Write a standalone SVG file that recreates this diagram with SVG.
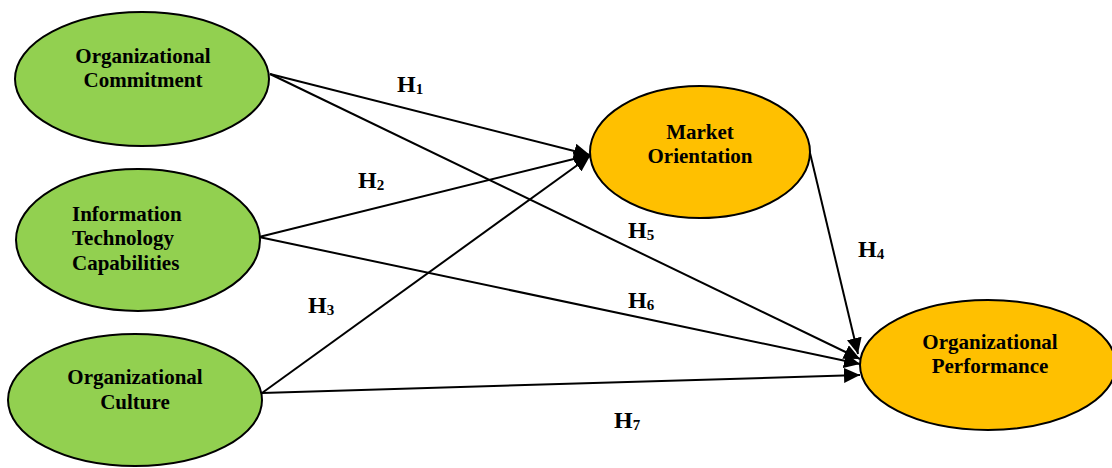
<svg xmlns="http://www.w3.org/2000/svg" width="1112" height="468" viewBox="0 0 1112 468">
<style>
.g{fill:#92D050;stroke:#000;stroke-width:2}
.o{fill:#FFC000;stroke:#000;stroke-width:2}
.t{font-family:"Liberation Serif","Times New Roman",serif;font-weight:bold;font-size:21px;fill:#000}
.c{text-anchor:middle}
.h{font-family:"Liberation Serif","Times New Roman",serif;font-weight:bold;font-size:24px;fill:#000}
.s{font-size:15px}
.e{stroke:#000;stroke-width:2;fill:none;marker-end:url(#ah)}
</style>
<defs>
<marker id="ah" markerUnits="userSpaceOnUse" markerWidth="17" markerHeight="15" refX="16" refY="7.5" orient="auto">
<path d="M0,0 L16,7.5 L0,15 Z" fill="#000"/>
</marker>
</defs>
<rect width="1112" height="468" fill="#fff"/>
<g id="connectors">
<line class="e" x1="270" y1="74" x2="590" y2="155"/>
<line class="e" x1="259" y1="237" x2="590" y2="155"/>
<line class="e" x1="262" y1="393" x2="590" y2="156"/>
<line class="e" x1="810" y1="153" x2="858" y2="354"/>
<line class="e" x1="270" y1="74" x2="860" y2="359"/>
<line class="e" x1="259" y1="237" x2="860" y2="364"/>
<line class="e" x1="262" y1="393" x2="860" y2="375"/>
</g>
<g id="labels">
<text class="h" x="397" y="92">H<tspan class="s" dy="2">1</tspan></text>
<text class="h" x="358" y="188">H<tspan class="s" dy="2">2</tspan></text>
<text class="h" x="308" y="313">H<tspan class="s" dy="2">3</tspan></text>
<text class="h" x="858" y="257">H<tspan class="s" dy="2">4</tspan></text>
<text class="h" x="628" y="238">H<tspan class="s" dy="2">5</tspan></text>
<text class="h" x="628" y="308">H<tspan class="s" dy="2">6</tspan></text>
<text class="h" x="614" y="428">H<tspan class="s" dy="2">7</tspan></text>
</g>
<g id="org-commitment">
<ellipse class="g" cx="142" cy="79" rx="127" ry="67"/>
<text class="t c" x="143" y="63">Organizational</text>
<text class="t c" x="143" y="87">Commitment</text>
</g>
<g id="it-capabilities">
<ellipse class="g" cx="138" cy="240" rx="122" ry="71"/>
<text class="t" x="72" y="221">Information</text>
<text class="t" x="72" y="245">Technology</text>
<text class="t" x="72" y="270">Capabilities</text>
</g>
<g id="org-culture">
<ellipse class="g" cx="135" cy="400" rx="127" ry="66"/>
<text class="t c" x="135" y="384">Organizational</text>
<text class="t c" x="135" y="409">Culture</text>
</g>
<g id="market-orientation">
<ellipse class="o" cx="700" cy="152" rx="110" ry="66"/>
<text class="t c" x="700" y="139">Market</text>
<text class="t c" x="700" y="163">Orientation</text>
</g>
<g id="org-performance">
<ellipse class="o" cx="988" cy="365" rx="128" ry="65"/>
<text class="t c" x="990" y="349">Organizational</text>
<text class="t c" x="990" y="373">Performance</text>
</g>
</svg>
